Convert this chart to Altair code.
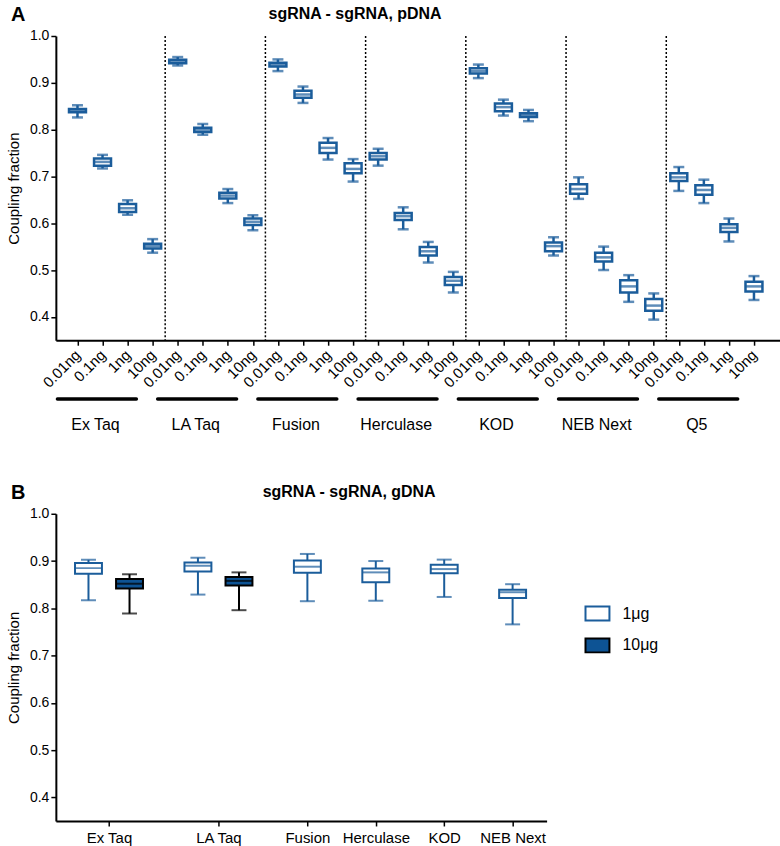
import json
import altair as alt
import pandas as pd

BLUE = "#1b5d9b"
DARK = "#0d5394"
FONT = "Liberation Sans"

# ---------------- Panel A : sgRNA - sgRNA, pDNA ----------------
polymerases_a = ["Ex Taq", "LA Taq", "Fusion", "Herculase", "KOD", "NEB Next", "Q5"]
doses_a = ["0.01ng", "0.1ng", "1ng", "10ng"]

a_low = [
    [0.826, 0.717, 0.618, 0.537],
    [0.937, 0.789, 0.643, 0.585],
    [0.925, 0.857, 0.736, 0.689],
    [0.723, 0.587, 0.516, 0.452],
    [0.910, 0.830, 0.818, 0.531],
    [0.652, 0.500, 0.432, 0.394],
    [0.669, 0.643, 0.561, 0.436],
]
a_q1 = [
    [0.837, 0.723, 0.624, 0.546],
    [0.942, 0.795, 0.653, 0.596],
    [0.935, 0.868, 0.750, 0.707],
    [0.736, 0.607, 0.531, 0.468],
    [0.920, 0.839, 0.827, 0.540],
    [0.663, 0.518, 0.452, 0.413],
    [0.690, 0.661, 0.581, 0.454],
]
a_med = [
    [0.840, 0.731, 0.632, 0.551],
    [0.946, 0.800, 0.659, 0.603],
    [0.939, 0.875, 0.761, 0.716],
    [0.743, 0.615, 0.540, 0.477],
    [0.925, 0.848, 0.831, 0.551],
    [0.673, 0.527, 0.465, 0.424],
    [0.698, 0.671, 0.590, 0.465],
]
a_q3 = [
    [0.844, 0.738, 0.641, 0.556],
    [0.949, 0.804, 0.665, 0.610],
    [0.943, 0.883, 0.772, 0.728],
    [0.750, 0.622, 0.549, 0.485],
    [0.931, 0.856, 0.835, 0.559],
    [0.683, 0.537, 0.478, 0.438],
    [0.707, 0.681, 0.598, 0.475],
]
a_high = [
    [0.852, 0.746, 0.649, 0.566],
    [0.955, 0.812, 0.673, 0.617],
    [0.950, 0.892, 0.782, 0.737],
    [0.759, 0.634, 0.560, 0.496],
    [0.939, 0.864, 0.842, 0.570],
    [0.698, 0.550, 0.489, 0.450],
    [0.720, 0.693, 0.610, 0.487],
]

# ---------------- Panel B : sgRNA - sgRNA, gDNA ----------------
polymerases_b = ["Ex Taq", "LA Taq", "Fusion", "Herculase", "KOD", "NEB Next"]
amounts_b = ["1μg", "10μg"]
b1_low = [0.817, 0.829, 0.815, 0.816, 0.824, 0.766]
b1_q1 = [0.873, 0.878, 0.875, 0.855, 0.874, 0.822]
b1_med = [0.885, 0.890, 0.888, 0.876, 0.883, 0.834]
b1_q3 = [0.896, 0.897, 0.901, 0.884, 0.892, 0.839]
b1_high = [0.9025, 0.907, 0.915, 0.900, 0.903, 0.851]
b10_polymerases = ["Ex Taq", "LA Taq"]
b10_low = [0.789, 0.796]
b10_q1 = [0.842, 0.848]
b10_med = [0.852, 0.858]
b10_q3 = [0.862, 0.866]
b10_high = [0.872, 0.876]

titles = ["sgRNA - sgRNA, pDNA", "sgRNA - sgRNA, gDNA"]
panel_letters = ["A", "B"]

# ---------------- build tables ----------------
n_d = len(doses_a)
rows_a = []
for g, pol in enumerate(polymerases_a):
    for d, dose in enumerate(doses_a):
        rows_a.append(dict(pos=g * n_d + d, polymerase=pol, dose=dose,
                           low=a_low[g][d], q1=a_q1[g][d], med=a_med[g][d],
                           q3=a_q3[g][d], high=a_high[g][d]))
df_a = pd.DataFrame(rows_a)
df_div = pd.DataFrame({"pos": [g * n_d - 0.5 for g in range(1, len(polymerases_a))]})
df_grp = pd.DataFrame({"pos": [g * n_d - 0.8 for g in range(len(polymerases_a))],
                       "pos2": [g * n_d + 2.35 for g in range(len(polymerases_a))],
                       "mid": [g * n_d + 0.72 for g in range(len(polymerases_a))],
                       "name": polymerases_a})

rows_b = []
centers_b = []
cursor = 0.0
for g, pol in enumerate(polymerases_b):
    series = [(amounts_b[0], b1_low[g], b1_q1[g], b1_med[g], b1_q3[g], b1_high[g])]
    if pol in b10_polymerases:
        k = b10_polymerases.index(pol)
        series.append((amounts_b[1], b10_low[k], b10_q1[k], b10_med[k], b10_q3[k], b10_high[k]))
    xs = []
    for j, (amt, lo, q1, md, q3, hi) in enumerate(series):
        x = round(cursor + j * 0.6, 4)
        xs.append(x)
        rows_b.append(dict(pos=x, polymerase=pol, amount=amt, low=lo, q1=q1,
                           med=md, q3=q3, high=hi))
    centers_b.append(round(sum(xs) / len(xs), 4))
    cursor = xs[-1] + 1.0
df_b = pd.DataFrame(rows_b)

# ---------------- shared encodings ----------------
Y_DOMAIN = [0.35, 1.0]
Y_TICKS = [0.4, 0.5, 0.6, 0.7, 0.8, 0.9, 1.0]


def yenc(field):
    return alt.Y(f"{field}:Q", scale=alt.Scale(domain=Y_DOMAIN, nice=False, zero=False),
                 axis=alt.Axis(values=Y_TICKS, format=".1f", title="Coupling fraction",
                               titlePadding=8),
                 title="Coupling fraction")


def header(letter, title, title_x):
    lt = alt.Chart(pd.DataFrame({"t": [letter]})).mark_text(
        font=FONT, fontSize=20, fontWeight="bold", align="left", baseline="middle",
        color="black").encode(x=alt.value(-45), y=alt.value(-21), text="t:N")
    tt = alt.Chart(pd.DataFrame({"t": [title]})).mark_text(
        font=FONT, fontSize=16, fontWeight="bold", align="center", baseline="middle",
        color="black").encode(x=alt.value(title_x), y=alt.value(-22), text="t:N")
    return lt, tt


# Panel A
WA, HA = 726, 305
labels_expr_a = json.dumps(doses_a) + f"[datum.value % {n_d}]"
xa_axis = alt.Axis(values=list(range(len(polymerases_a) * n_d)), labelExpr=labels_expr_a,
                   labelAngle=-45, labelAlign="right", labelBaseline="middle",
                   labelFontSize=15, labelPadding=7, labelOverlap=False, title=None)
xa_scale = alt.Scale(domain=[-0.664, 27.84], nice=False, zero=False)


def xa(field="pos"):
    return alt.X(f"{field}:Q", scale=xa_scale, axis=xa_axis, title=None)


base_a = alt.Chart(df_a)
div_a = alt.Chart(df_div).mark_rule(color="black", strokeDash=[2, 2], strokeWidth=1.5).encode(
    x=xa(), y=alt.value(0), y2=alt.value(HA))
whisk_a = base_a.mark_rule(color=BLUE, strokeWidth=2.5).encode(x=xa(), y=yenc("low"), y2="high:Q")
box_a = base_a.mark_bar(fill="white", stroke=BLUE, strokeWidth=2.5, size=17, orient="vertical").encode(
    x=xa(), y=yenc("q1"), y2="q3:Q")
med_a = base_a.mark_tick(color=BLUE, orient="horizontal", size=17, thickness=2.5).encode(
    x=xa(), y=yenc("med"))
caplo_a = base_a.mark_tick(color=BLUE, orient="horizontal", size=11, thickness=2.5).encode(
    x=xa(), y=yenc("low"))
caphi_a = base_a.mark_tick(color=BLUE, orient="horizontal", size=11, thickness=2.5).encode(
    x=xa(), y=yenc("high"))
grp_line = alt.Chart(df_grp).mark_rule(color="black", strokeWidth=3.5, strokeCap="round").encode(
    x=xa(), x2="pos2:Q", y=alt.value(HA + 59))
grp_text = alt.Chart(df_grp).mark_text(font=FONT, fontSize=16, baseline="middle", color="black").encode(
    x=xa("mid"), y=alt.value(HA + 85), text="name:N")
letter_a, title_a = header(panel_letters[0], titles[0], 300)

panel_a = alt.layer(div_a, whisk_a, box_a, med_a, caplo_a, caphi_a, grp_line, grp_text,
                    letter_a, title_a).properties(width=WA, height=HA)

# Panel B
WB, HB = 492, 308
labels_expr_b = json.dumps(polymerases_b) + "[indexof(" + json.dumps(centers_b) + ", datum.value)]"
xb_axis = alt.Axis(values=centers_b, labelExpr=labels_expr_b, labelAngle=0, labelFontSize=15,
                   labelPadding=5, labelOverlap=False, title=None)
xb_scale = alt.Scale(domain=[-0.404, 6.624], nice=False, zero=False)


def xb():
    return alt.X("pos:Q", scale=xb_scale, axis=xb_axis, title=None)


fill_scale = alt.Scale(domain=amounts_b, range=["white", DARK])
stroke_scale = alt.Scale(domain=amounts_b, range=[BLUE, "black"])
# legend coordinates are measured from the top panel's plot origin in a vconcat
legend_b = alt.Legend(orient="none", legendX=530, legendY=566, title=None,
                      symbolType="M-1,-0.58H1V0.58H-1Z", symbolSize=576,
                      symbolStrokeWidth=2, labelFontSize=16, labelFont=FONT,
                      labelOffset=12, rowPadding=8)

base_b = alt.Chart(df_b)
whisk_b = base_b.mark_rule(strokeWidth=2).encode(
    x=xb(), y=yenc("low"), y2="high:Q",
    stroke=alt.Stroke("amount:N", scale=stroke_scale, legend=legend_b, title=None))
box_b = base_b.mark_bar(strokeWidth=2, size=27, orient="vertical").encode(
    x=xb(), y=yenc("q1"), y2="q3:Q",
    fill=alt.Fill("amount:N", scale=fill_scale, title=None, legend=legend_b),
    stroke=alt.Stroke("amount:N", scale=stroke_scale, title=None, legend=legend_b))
med_b = base_b.mark_tick(orient="horizontal", size=27, thickness=2).encode(
    x=xb(), y=yenc("med"), color=alt.Color("amount:N", scale=stroke_scale, legend=None))
caplo_b = base_b.mark_tick(orient="horizontal", size=15, thickness=2).encode(
    x=xb(), y=yenc("low"), color=alt.Color("amount:N", scale=stroke_scale, legend=None))
caphi_b = base_b.mark_tick(orient="horizontal", size=15, thickness=2).encode(
    x=xb(), y=yenc("high"), color=alt.Color("amount:N", scale=stroke_scale, legend=None))
letter_b, title_b = header(panel_letters[1], titles[1], 294)

panel_b = alt.layer(whisk_b, box_b, med_b, caplo_b, caphi_b, letter_b, title_b).properties(
    width=WB, height=HB)

chart = alt.vconcat(panel_a, panel_b, spacing=50).properties(
    padding={"left": 6, "top": 4, "right": 0, "bottom": 2}
).configure_view(stroke=None).configure_axis(
    grid=False, domainColor="black", domainWidth=2, tickColor="black", tickWidth=1.5,
    tickSize=5, labelColor="black", labelFont=FONT, labelFontSize=14, titleFont=FONT,
    titleFontSize=15, titleFontWeight="normal", titleColor="black"
).configure_legend(labelColor="black")

chart.save("out.html", embed_options={"renderer": "svg", "actions": False})
